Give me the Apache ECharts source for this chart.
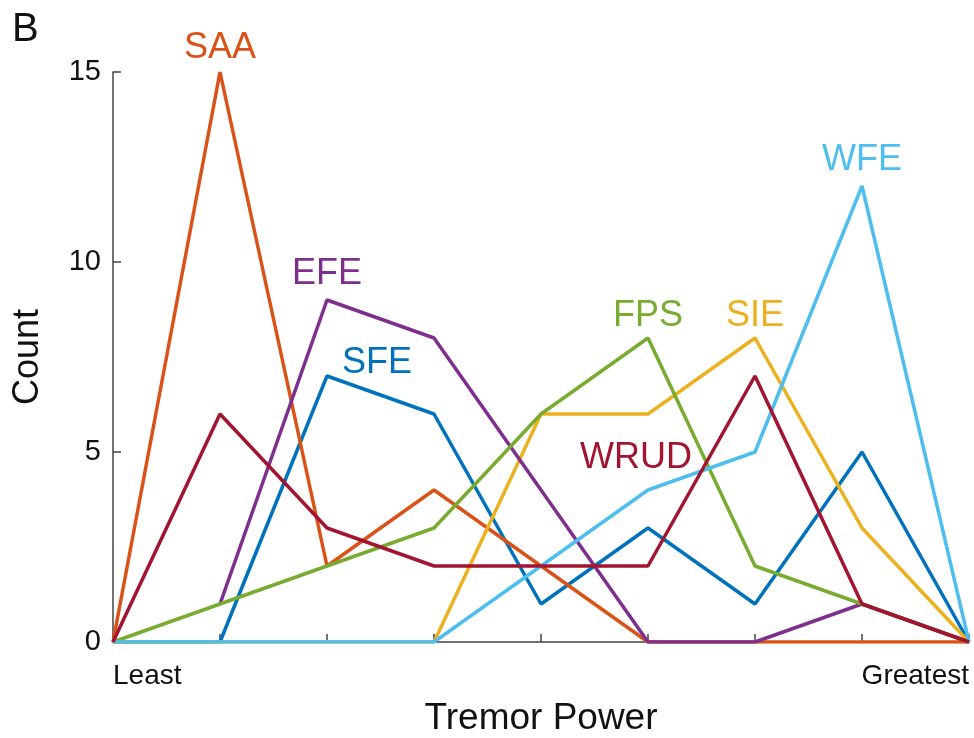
<!DOCTYPE html>
<html>
<head>
<meta charset="utf-8">
<script src="https://cdn.jsdelivr.net/npm/echarts@6/dist/echarts.min.js"></script>
<style>
html,body{margin:0;padding:0;background:#fff;}
#chart{width:974px;height:738px;}
</style>
</head>
<body>
<div id="chart"></div>
<script>
// ---- data ----
const categories = ['Least', '', '', '', '', '', '', '', 'Greatest'];
const seriesNames = ['SFE', 'SAA', 'SIE', 'EFE', 'FPS', 'WFE', 'WRUD'];
const SFE  = [0, 0, 7, 6, 1, 3, 1, 5, 0];
const SAA  = [0, 15, 2, 4, 2, 0, 0, 0, 0];
const SIE  = [0, 0, 0, 0, 6, 6, 8, 3, 0];
const EFE  = [null, 1, 9, 8, 4, 0, 0, 1, 0];
const FPS  = [0, 1, 2, 3, 6, 8, 2, 1, 0];
const WFE  = [0, 0, 0, 0, 2, 4, 5, 12, 0];
const WRUD = [0, 6, 3, 2, 2, 2, 7, 1, 0];
const yTicks = [0, 5, 10, 15];

// ---- styling ----
const colors = {SFE:'#0072BD', SAA:'#D95319', SIE:'#EDB120', EFE:'#7E2F8E', FPS:'#77AC30', WFE:'#4DBEEE', WRUD:'#A2142F'};
const labelAt = {SAA:1, EFE:2, SFE:2, FPS:5, SIE:6, WFE:7, WRUD:6};
const labelOffset = {SAA:[0,-24], EFE:[0,-26], SFE:[50,-13], FPS:[0,-22], SIE:[0,-22], WFE:[0,-26], WRUD:[-119,82]};
const values = {SFE, SAA, SIE, EFE, FPS, WFE, WRUD};
const FONT = 'Arial, "Liberation Sans", Helvetica, sans-serif';

const series = seriesNames.map(name => ({
  name,
  type: 'line',
  data: values[name].map((v, i) => i === labelAt[name] ? {
    value: v,
    label: {show: true, formatter: name, position: 'inside', offset: labelOffset[name],
            color: colors[name], fontSize: 36, fontFamily: FONT}
  } : v),
  showSymbol: true,
  symbol: 'circle',
  symbolSize: 0,
  lineStyle: {color: colors[name], width: 3.5},
  itemStyle: {color: colors[name]},
  silent: true,
  animation: false,
  emphasis: {disabled: true}
}));

const chart = echarts.init(document.getElementById('chart'), null, {renderer: 'canvas'});
chart.setOption({
  backgroundColor: '#fff',
  animation: false,
  grid: {left: 113, right: 5, top: 72, bottom: 96, containLabel: false, outerBoundsMode: 'none'},
  xAxis: {
    type: 'category',
    data: categories,
    boundaryGap: false,
    name: 'Tremor Power',
    nameLocation: 'middle',
    nameGap: 58,
    nameTextStyle: {fontSize: 37, color: '#111', fontFamily: FONT},
    axisLine: {lineStyle: {color: '#444', width: 1.5}},
    axisTick: {show: true, inside: true, length: 8, interval: 0, lineStyle: {color: '#444', width: 1.5}},
    axisLabel: {interval: 0, fontSize: 28, color: '#111', fontFamily: FONT, margin: 20,
                alignMinLabel: 'left', alignMaxLabel: 'right'},
    splitLine: {show: false}
  },
  yAxis: {
    type: 'value',
    min: yTicks[0],
    max: yTicks[yTicks.length - 1],
    interval: 5,
    name: 'Count',
    nameLocation: 'middle',
    nameGap: 67,
    nameRotate: 90,
    nameTextStyle: {fontSize: 36, color: '#111', fontFamily: FONT},
    axisLine: {show: true, lineStyle: {color: '#444', width: 1.5}},
    axisTick: {show: true, inside: true, length: 8, lineStyle: {color: '#444', width: 1.5}},
    axisLabel: {fontSize: 29, color: '#111', fontFamily: FONT, margin: 12},
    splitLine: {show: false}
  },
  graphic: [{
    type: 'text', left: 12, top: 10,
    style: {text: 'B', fontSize: 40, fill: '#111', fontFamily: FONT}
  }],
  series
});
</script>
</body>
</html>
